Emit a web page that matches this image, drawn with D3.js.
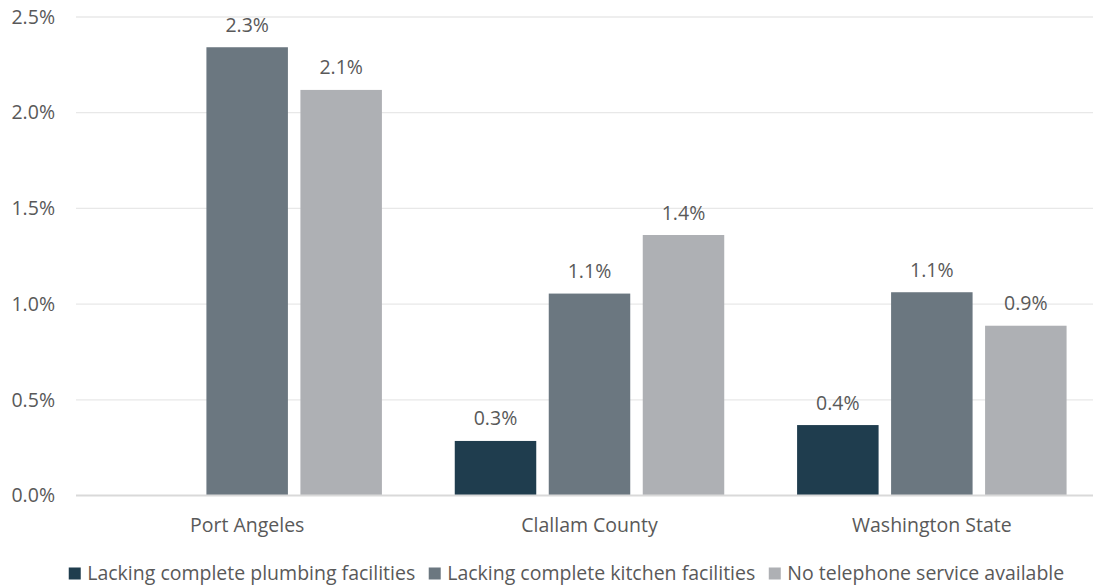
<!DOCTYPE html>
<html>
<head>
<meta charset="utf-8">
<script src="https://cdn.jsdelivr.net/npm/d3@7"></script>
<style>
  html, body { margin: 0; padding: 0; background: #fff; }
  svg text { font-family: "Open Sans", "Noto Sans", sans-serif; fill: #595959; }
</style>
</head>
<body>
<svg id="chart" width="1093" height="587"></svg>
<script>
const categories = ["Port Angeles", "Clallam County", "Washington State"];
const seriesNames = ["Lacking complete plumbing facilities", "Lacking complete kitchen facilities", "No telephone service available"];
const plumbing = [null, 0.00285, 0.00368];
const kitchen = [0.02342, 0.01055, 0.01062];
const telephone = [0.02119, 0.01361, 0.00887];
const seriesColors = ["#1f3d4e", "#6b7780", "#aeb0b4"];
const yTicks = [0, 0.005, 0.01, 0.015, 0.02, 0.025];

const seriesValues = [plumbing, kitchen, telephone];
const svg = d3.select("#chart");
const margin = {left: 76, right: -10, top: 17, bottom: 91.5};
const W = 1093, H = 587;
const FS = "19.5px";

const x0 = d3.scaleBand().domain(categories).range([margin.left, W - margin.right]).padding(0);
const x1 = d3.scaleBand().domain(seriesNames).range([0, x0.bandwidth()]).paddingInner(0.133).paddingOuter(0.3875);
const y = d3.scaleLinear().domain([0, 0.025]).range([H - margin.bottom, margin.top]);

// gridlines
svg.append("g").selectAll("line").data(yTicks.filter(d => d > 0)).join("line")
  .attr("x1", margin.left).attr("x2", W - margin.right)
  .attr("y1", d => y(d)).attr("y2", d => y(d))
  .attr("stroke", "#e8e8e8").attr("stroke-width", 1.3);

// y axis labels
const yAxis = d3.axisLeft(y).tickValues(yTicks).tickFormat(d3.format(".1%")).tickSize(0).tickPadding(21);
const gy = svg.append("g").attr("transform", `translate(${margin.left},0)`).call(yAxis);
gy.select(".domain").remove();
gy.selectAll("text").style("font-size", FS).attr("fill", "#595959");

// bars
const rows = [];
categories.forEach((c, i) => {
  seriesNames.forEach((s, j) => {
    rows.push({cat: c, series: s, value: seriesValues[j][i], color: seriesColors[j]});
  });
});
const groups = svg.append("g");
groups.selectAll("rect").data(rows.filter(d => d.value != null)).join("rect")
  .attr("x", d => x0(d.cat) + x1(d.series))
  .attr("width", x1.bandwidth())
  .attr("y", d => y(d.value))
  .attr("height", d => y(0) - y(d.value))
  .attr("fill", d => d.color);

groups.selectAll("text").data(rows.filter(d => d.value != null)).join("text")
  .attr("x", d => x0(d.cat) + x1(d.series) + x1.bandwidth() / 2)
  .attr("y", d => y(d.value) - 15.5)
  .attr("text-anchor", "middle")
  .style("font-size", FS)
  .text(d => d3.format(".1%")(d.value));

// baseline
svg.append("line")
  .attr("x1", margin.left).attr("x2", W - margin.right)
  .attr("y1", y(0)).attr("y2", y(0))
  .attr("stroke", "#d9d9d9").attr("stroke-width", 2);

// x axis labels
const xAxis = d3.axisBottom(x0).tickSize(0).tickPadding(0);
const gx = svg.append("g").attr("transform", `translate(0,${y(0)})`).call(xAxis);
gx.select(".domain").remove();
gx.selectAll("text").attr("dy", null).attr("y", 36.5).style("font-size", FS).attr("fill", "#595959");

// legend
const legend = svg.append("g");
const items = legend.selectAll("g").data(seriesNames).join("g");
items.append("rect").attr("width", 12).attr("height", 12).attr("y", -12.5)
  .attr("fill", (d, i) => seriesColors[i]);
items.append("text").attr("x", 18.5).attr("y", 0).style("font-size", FS).text(d => d);
let xpos = 0;
items.each(function() {
  const g = d3.select(this);
  g.attr("transform", `translate(${xpos},0)`);
  const w = 18.5 + g.select("text").node().getComputedTextLength();
  xpos += w + 13.5;
});
const total = xpos - 13.5;
legend.attr("transform", `translate(${566.5 - total / 2},580)`);
</script>
</body>
</html>
